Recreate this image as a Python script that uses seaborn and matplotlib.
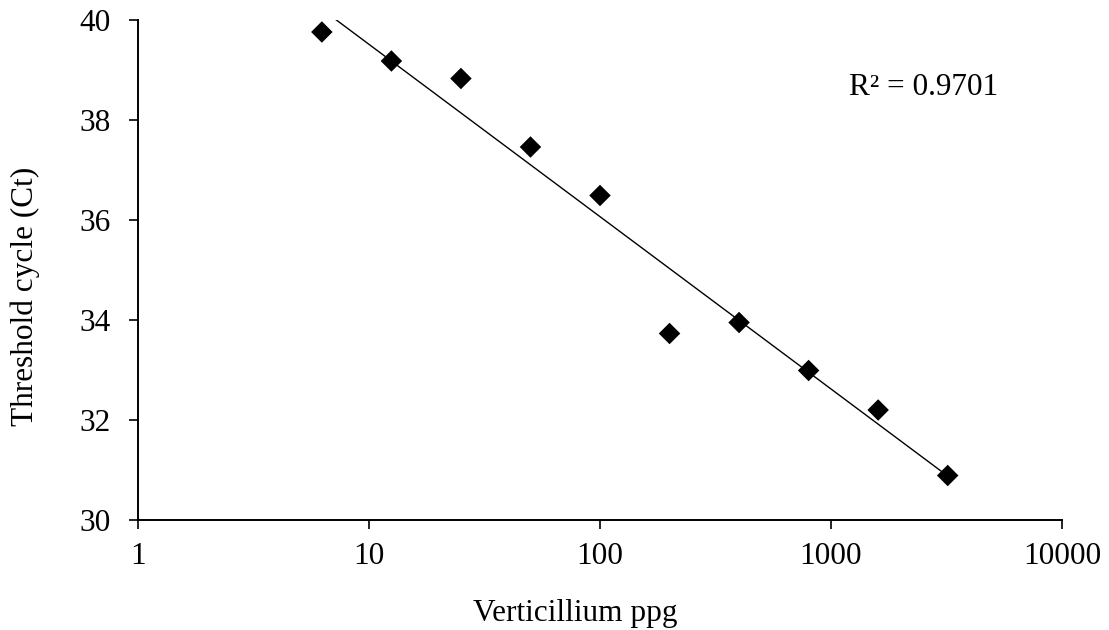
import numpy as np
import pandas as pd
import matplotlib
matplotlib.use("Agg")
import matplotlib.pyplot as plt
import seaborn as sns

# Data
conc = [6.25, 12.5, 25, 50, 100, 200, 400, 800, 1600, 3200]
ct = [39.76, 39.18, 38.83, 37.46, 36.49, 33.73, 33.95, 32.99, 32.20, 30.89]
x_ticks = [1, 10, 100, 1000, 10000]
x_tick_labels = ["1", "10", "100", "1000", "10000"]
y_ticks = [30, 32, 34, 36, 38, 40]

df = pd.DataFrame({"conc": conc, "ct": ct})

sns.set_theme(style="white")
plt.rcParams['font.family'] = ['Liberation Serif', 'DejaVu Serif']

FS = 22.5

fig = plt.figure(figsize=(11.09, 6.30), dpi=100)
ax = fig.add_axes([138/1109, 1 - 520/630, (1062-138)/1109, 500/630])

sns.regplot(data=df, x="conc", y="ct", logx=True, ci=None, ax=ax,
            marker="D", color="black",
            scatter_kws={"s": 120, "edgecolors": "none", "alpha": 1, "zorder": 3},
            line_kws={"lw": 1.0, "color": "black"})

ax.set_xscale("log")
ax.set_xlim(1, 10000)
ax.set_ylim(30, 40)
ax.set_xticks(x_ticks)
ax.set_xticklabels(x_tick_labels)
ax.set_yticks(y_ticks)
ax.minorticks_off()

for s in ["top", "right"]:
    ax.spines[s].set_visible(False)
for s in ["left", "bottom"]:
    ax.spines[s].set_color("black")
    ax.spines[s].set_linewidth(1.4)

ax.tick_params(axis="both", which="major", direction="out", length=6.5, width=1.2,
               color="black", labelsize=FS, labelcolor="black", bottom=True, left=True)
ax.tick_params(axis="x", pad=9)
ax.tick_params(axis="y", pad=13)

ax.set_xlabel("Verticillium ppg", fontsize=FS, color="black")
ax.set_ylabel("Threshold cycle (Ct)", fontsize=FS, color="black")
ax.xaxis.label.set_va("baseline")
ax.yaxis.label.set_va("baseline")
ax.xaxis.set_label_coords((575 - 138) / 924, (520 - 621) / 500)
ax.yaxis.set_label_coords((33 - 138) / 924, (520 - 296) / 500)

ax.text((849 - 138) / 924, (520 - 95) / 500, "R² = 0.9701", transform=ax.transAxes,
        fontsize=FS, color="black", ha="left", va="baseline")

fig.savefig("out.png", dpi=100)
